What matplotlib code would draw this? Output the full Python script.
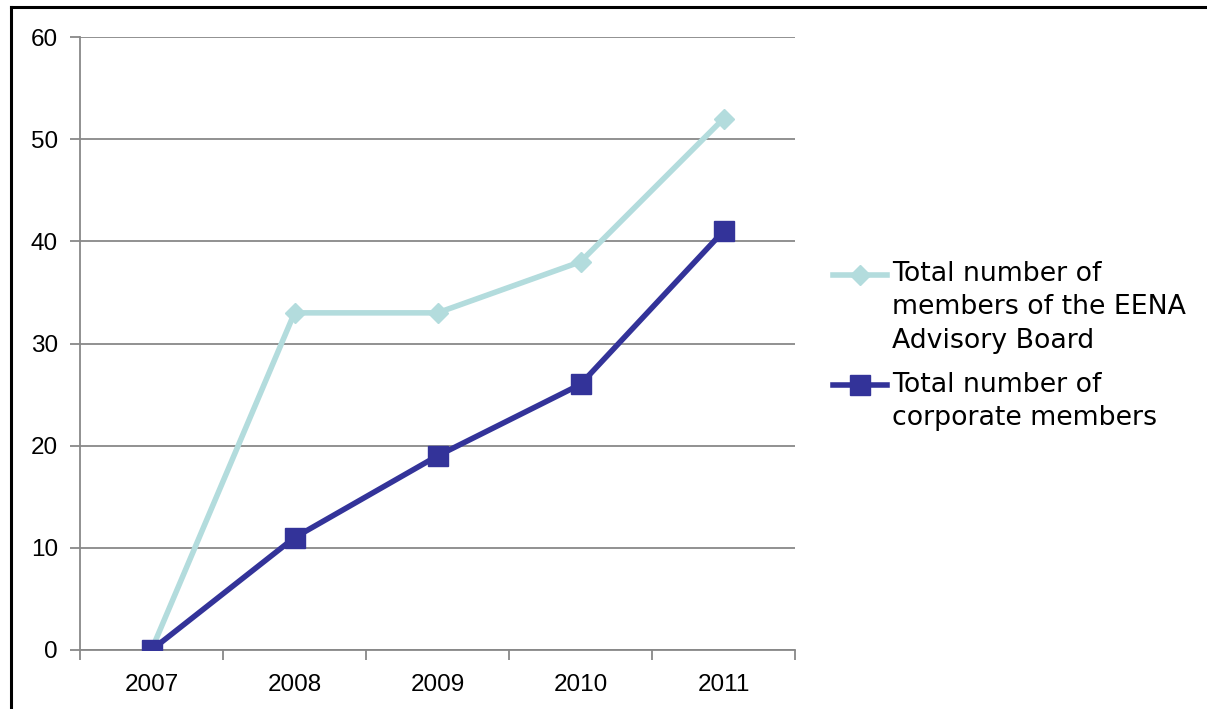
import matplotlib
matplotlib.use("Agg")
import matplotlib.pyplot as plt
from matplotlib.lines import Line2D
from matplotlib.legend_handler import HandlerLine2D

# data
years = ["2007", "2008", "2009", "2010", "2011"]
board_members = [0, 33, 33, 38, 52]
corporate_members = [0, 11, 19, 26, 41]
board_label = "Total number of\nmembers of the EENA\nAdvisory Board"
corp_label = "Total number of\ncorporate members"
y_ticks = [0, 10, 20, 30, 40, 50, 60]


class FirstLineHandler(HandlerLine2D):
    # put the legend handle next to the first line of a multi-line label
    def __init__(self, n_lines, line_pt=23.8, **kw):
        super().__init__(**kw)
        self.shift = (n_lines - 1) / 2 * line_pt

    def create_artists(self, legend, orig_handle, xdescent, ydescent,
                       width, height, fontsize, trans):
        return super().create_artists(legend, orig_handle, xdescent,
                                      ydescent - 2 * self.shift, width, height,
                                      fontsize, trans)


W, H = 1207, 709
fig = plt.figure(figsize=(W / 100, H / 100), dpi=100)
ax = fig.add_axes([80 / W, 1 - 650 / H, (795 - 80) / W, (650 - 37) / H])

x = range(len(years))
l1, = ax.plot(x, board_members, color="#b3dcdd", lw=4, marker="D", ms=10,
              mec="#b3dcdd", mfc="#b3dcdd", label=board_label, zorder=3)
l2, = ax.plot(x, corporate_members, color="#333399", lw=4, marker="s", ms=14,
              mec="#333399", mfc="#333399", label=corp_label, zorder=4)

ax.set_xlim(-0.5, len(years) - 0.5)
ax.set_ylim(0, 60)
ax.set_yticks(y_ticks)
# category boundaries carry the tick marks, centres carry the labels
ax.set_xticks([i - 0.5 for i in range(len(years) + 1)])
ax.set_xticklabels([""] * (len(years) + 1))
ax.set_xticks(list(x), minor=True)
ax.set_xticklabels(years, minor=True)
ax.tick_params(axis="x", which="major", length=7, width=1.3, color="#888888", direction="out")
ax.tick_params(axis="x", which="minor", length=0, pad=17, labelsize=17.5)
ax.tick_params(axis="y", length=7, width=1.3, color="#888888", labelsize=17.5, pad=9)
for lab in ax.get_xticklabels(minor=True) + ax.get_yticklabels():
    lab.set_fontfamily("Liberation Sans")

ax.grid(axis="y", color="#888888", lw=1.3)
ax.set_axisbelow(True)
for side in ["top", "right"]:
    ax.spines[side].set_visible(False)
for side in ["left", "bottom"]:
    ax.spines[side].set_color("#888888")
    ax.spines[side].set_linewidth(1.3)

leg = fig.legend(handles=[l1, l2], loc="center left",
                 bbox_to_anchor=(833 / W, 1 - 346 / H),
                 frameon=False, handlelength=2.0, handletextpad=0.2,
                 labelspacing=0.65, borderpad=0, borderaxespad=0,
                 prop={"family": "DejaVu Sans", "size": 19.3},
                 handler_map={l1: FirstLineHandler(3), l2: FirstLineHandler(2)})
for t in leg.get_texts():
    t.set_linespacing(1.38)

# page frame (left and top edges only)
fig.add_artist(Line2D([11 / W, 11 / W], [0, 1 - 7 / H], transform=fig.transFigure,
                      color="black", lw=2.2))
fig.add_artist(Line2D([11 / W, 1], [1 - 7 / H, 1 - 7 / H], transform=fig.transFigure,
                      color="black", lw=2.2))

fig.savefig("out.png", dpi=100)
